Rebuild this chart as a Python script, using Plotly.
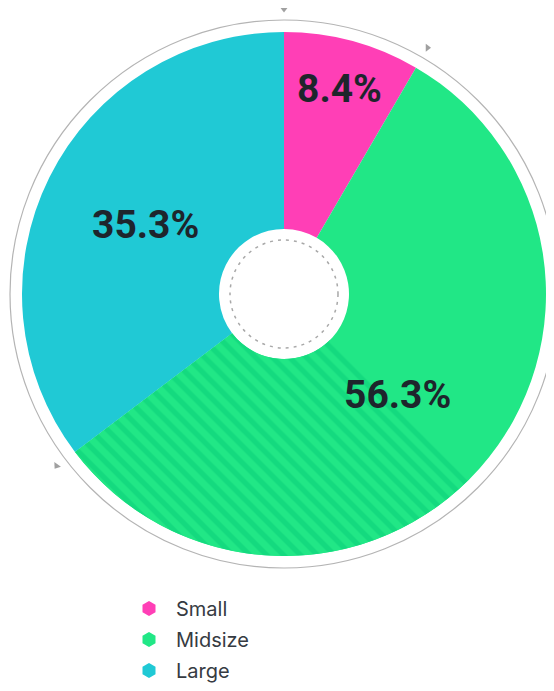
import math
import plotly.graph_objects as go

# ---- data ----
categories = ["Small", "Midsize", "Large"]
shares = [8.4, 56.3, 35.3]
label_texts = ["8.4%", "56.3%", "35.3%"]

# ---- style ----
colors = ["#FF3FB6", "#21E786", "#20C9D5"]
stripe_color = "#14DA7F"
text_color = "#1E252C"
label_radius_frac = [0.81, 0.58, 0.59]

# page: 554x691 window, body margin 8px
WIN_W, WIN_H, PAGE_M = 554, 691, 8
FW, FH = WIN_W - 2 * PAGE_M, WIN_H - 2 * PAGE_M
# geometry in window pixels
CX, CY, R = 284, 294, 262
HOLE_R = 65
DASH_R = 54
RING_R = 274
TICK_R = 285
HATCH_START_DEG = 135

total = sum(shares)
cum = [0]
for v in shares:
    cum.append(cum[-1] + v)

def to_xy(deg, r):
    a = math.radians(deg)
    return CX + r * math.sin(a), CY - r * math.cos(a)

def px_x(x):
    return (x - PAGE_M) / FW

def px_y(y):
    return (FH - (y - PAGE_M)) / FH

dom_x = [max(0, px_x(CX - R)), min(1, px_x(CX + R))]
dom_y = [px_y(CY + R), px_y(CY - R)]

fig = go.Figure()

# legend entries (hexagon markers)
for name, c in zip(categories, colors):
    fig.add_trace(go.Scatter(x=[None], y=[None], mode="markers", name=name,
                             legendgroup=name,
                             marker=dict(symbol="hexagon", size=15, color=c)))

# main donut
fig.add_trace(go.Pie(labels=categories, values=shares, sort=False,
                     direction="clockwise", rotation=0, hole=HOLE_R / R,
                     marker=dict(colors=colors, line=dict(width=0)),
                     textinfo="none", showlegend=False, hoverinfo="label+percent",
                     domain=dict(x=dom_x, y=dom_y)))

# hatched overlay on part of the midsize slice
end_mid = cum[2]
start_h = HATCH_START_DEG / 360 * total
fig.add_trace(go.Pie(values=[start_h, end_mid - start_h, total - end_mid],
                     labels=["a", "b", "c"], sort=False, direction="clockwise",
                     rotation=0, hole=HOLE_R / R, textinfo="none", showlegend=False,
                     hoverinfo="skip",
                     marker=dict(colors=["rgba(0,0,0,0)", colors[1], "rgba(0,0,0,0)"],
                                 line=dict(width=0),
                                 pattern=dict(shape=["", "\\", ""], fgcolor=stripe_color,
                                              bgcolor=colors[1], size=12, solidity=0.45)),
                     domain=dict(x=dom_x, y=dom_y)))

# boundary ticks (triangles)
tick_angles = [c / total * 360 for c in cum[:3]]
tx, ty = zip(*[to_xy(a, TICK_R) for a in tick_angles])
fig.add_trace(go.Scatter(x=list(tx), y=list(ty), mode="markers", showlegend=False,
                         hoverinfo="skip",
                         marker=dict(symbol=["triangle-down", "triangle-right", "triangle-down"],
                                     angle=[0, 0, 35], size=7, color="#A0A0A0")))

# labels
for i, t in enumerate(label_texts):
    mid = (cum[i] + cum[i + 1]) / 2 / total * 360
    x, y = to_xy(mid, label_radius_frac[i] * R)
    fig.add_annotation(x=x, y=y, xref="x", yref="y", text=t, showarrow=False,
                       font=dict(family="Roboto", size=39, color=text_color, weight="bold"))

# outer ring and inner dashed circle
fig.add_shape(type="circle", xref="x", yref="y", x0=CX - RING_R, x1=CX + RING_R,
              y0=CY - RING_R, y1=CY + RING_R, line=dict(color="#B4B4B4", width=1.2))
fig.add_shape(type="circle", xref="x", yref="y", x0=CX - DASH_R, x1=CX + DASH_R,
              y0=CY - DASH_R, y1=CY + DASH_R, layer="above",
              line=dict(color="#A8A8A8", width=1.5, dash="3px,5px"))

fig.update_layout(
    width=FW, height=FH, margin=dict(l=0, r=0, t=0, b=0, autoexpand=False),
    paper_bgcolor="white", plot_bgcolor="rgba(0,0,0,0)",
    xaxis=dict(range=[PAGE_M, PAGE_M + FW], visible=False, domain=[0, 1], fixedrange=True),
    yaxis=dict(range=[PAGE_M + FH, PAGE_M], visible=False, domain=[0, 1], fixedrange=True),
    legend=dict(x=px_x(122), y=px_y(589), xanchor="left", yanchor="top",
                font=dict(family="Inter", size=20, color="#363B42"),
                tracegroupgap=2, itemwidth=44, bgcolor="rgba(0,0,0,0)"),
    showlegend=True,
)

fig.write_html("out.html")
